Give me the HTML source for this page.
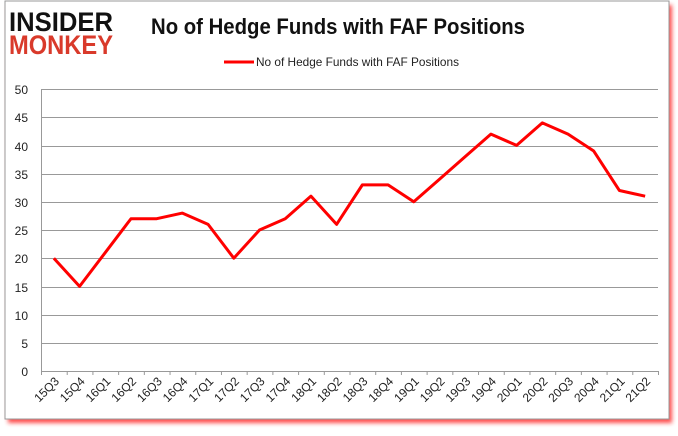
<!DOCTYPE html>
<html><head><style>
body{margin:0;background:#fff;width:678px;height:431px;overflow:hidden;font-family:"Liberation Sans",sans-serif}
</style></head><body>
<svg width="678" height="431" xmlns="http://www.w3.org/2000/svg">
<defs><filter id="sh" x="-5%" y="-5%" width="110%" height="110%"><feGaussianBlur stdDeviation="2"/></filter></defs>
<rect x="8" y="5" width="664" height="418" fill="#f22" opacity="0.8" filter="url(#sh)"/>
<rect x="5" y="1" width="664" height="418" fill="#fff" stroke="#999" stroke-width="1"/>
<text x="9" y="31" font-family="Liberation Sans" font-weight="900" font-size="27" fill="#111" textLength="104" lengthAdjust="spacingAndGlyphs">INSIDER</text>
<text x="9" y="54" font-family="Liberation Sans" font-weight="900" font-size="27" fill="#d93a2b" textLength="104" lengthAdjust="spacingAndGlyphs">MONKEY</text>
<text x="151" y="34" font-weight="bold" font-size="22" fill="#111" textLength="374" lengthAdjust="spacingAndGlyphs">No of Hedge Funds with FAF Positions</text>
<line x1="224" y1="62" x2="254" y2="62" stroke="#f00" stroke-width="3"/>
<text x="256" y="66" font-size="12" fill="#222" textLength="203" lengthAdjust="spacingAndGlyphs">No of Hedge Funds with FAF Positions</text>
<g stroke="#999" stroke-width="1">
<line x1="41" y1="89.5" x2="658" y2="89.5"/><line x1="41" y1="117.5" x2="658" y2="117.5"/><line x1="41" y1="146.5" x2="658" y2="146.5"/><line x1="41" y1="174.5" x2="658" y2="174.5"/><line x1="41" y1="202.5" x2="658" y2="202.5"/><line x1="41" y1="230.5" x2="658" y2="230.5"/><line x1="41" y1="258.5" x2="658" y2="258.5"/><line x1="41" y1="287.5" x2="658" y2="287.5"/><line x1="41" y1="315.5" x2="658" y2="315.5"/><line x1="41" y1="343.5" x2="658" y2="343.5"/><line x1="41" y1="371.5" x2="658" y2="371.5"/>
<line x1="41.5" y1="89" x2="41.5" y2="375"/>
</g>
<g font-size="12" fill="#222" text-anchor="end">
<text x="28" y="94">50</text><text x="28" y="122">45</text><text x="28" y="151">40</text><text x="28" y="179">35</text><text x="28" y="207">30</text><text x="28" y="235">25</text><text x="28" y="263">20</text><text x="28" y="292">15</text><text x="28" y="320">10</text><text x="28" y="348">5</text><text x="28" y="376">0</text>
</g>
<g id="ticks" stroke="#999"></g>
<g id="labs" font-size="12" fill="#222" text-anchor="end"></g>
<polyline id="ln" fill="none" stroke="#f00" stroke-width="3" stroke-linejoin="round"/>
</svg>
<script>
var v=[20,15,21,27,27,28,26,20,25,27,31,26,33,33,30,34,38,42,40,44,42,39,32,31];
var l=["15Q3","15Q4","16Q1","16Q2","16Q3","16Q4","17Q1","17Q2","17Q3","17Q4","18Q1","18Q2","18Q3","18Q4","19Q1","19Q2","19Q3","19Q4","20Q1","20Q2","20Q3","20Q4","21Q1","21Q2"];
var ns="http://www.w3.org/2000/svg",w=617/24,p=[],t=document.getElementById("ticks"),g=document.getElementById("labs");
for(var i=0;i<=24;i++){var x=41.5+i*w;var e=document.createElementNS(ns,"line");e.setAttribute("x1",x);e.setAttribute("x2",x);e.setAttribute("y1",371);e.setAttribute("y2",375);t.appendChild(e);}
for(var i=0;i<24;i++){var x=41+w*(i+0.5);p.push(x+","+(371-v[i]*5.64));var s=document.createElementNS(ns,"text");s.setAttribute("transform","translate("+(x+6)+",382) rotate(-45)");s.textContent=l[i];g.appendChild(s);}
document.getElementById("ln").setAttribute("points",p.join(" "));
</script>
</body></html>
